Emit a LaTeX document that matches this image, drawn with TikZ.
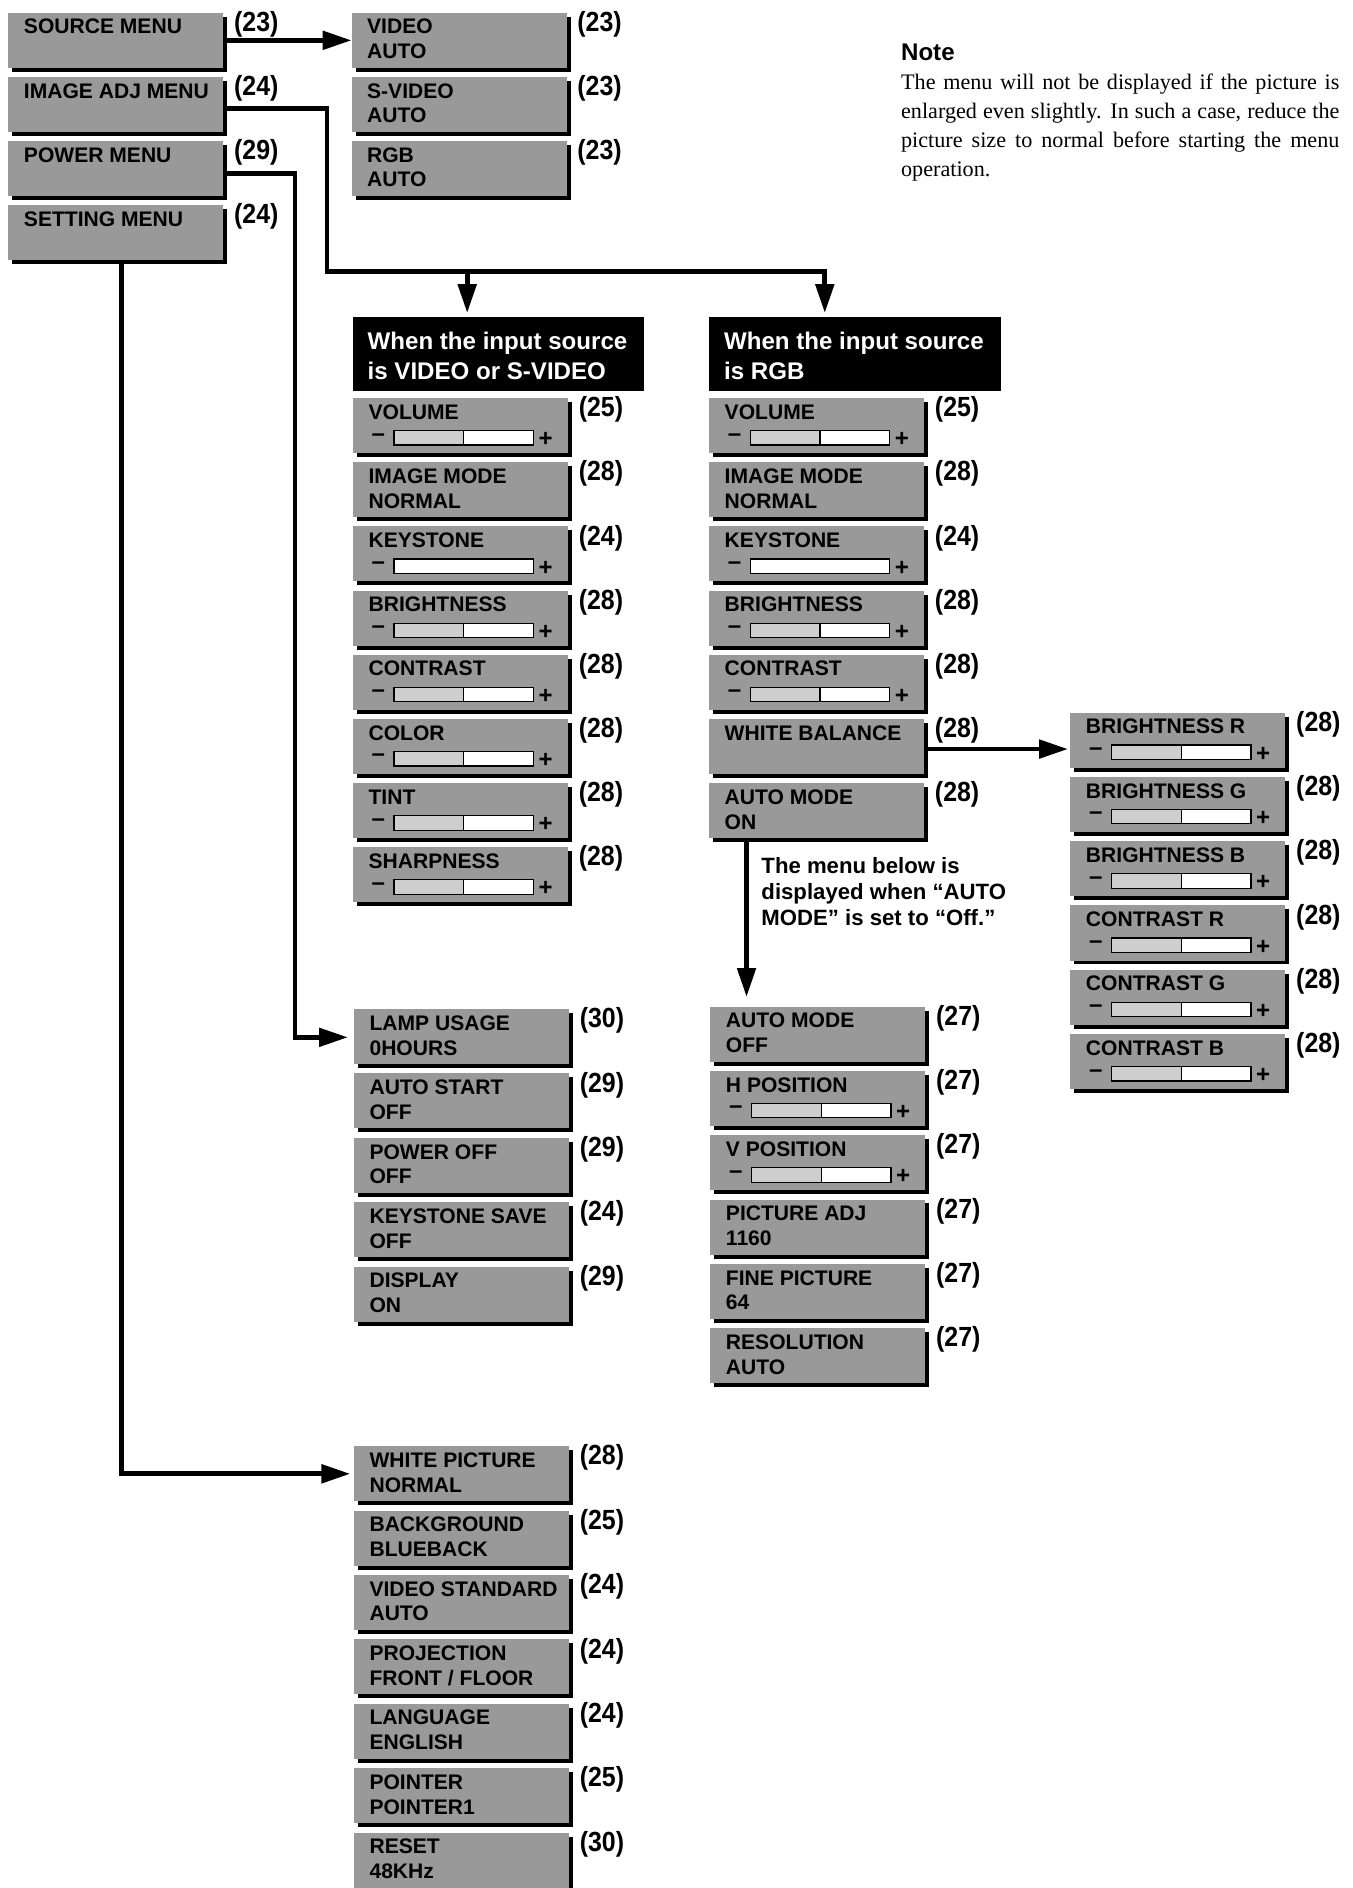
\documentclass[tikz,border=0pt]{standalone}
\usepackage{fontspec}
\setmainfont{Liberation Serif}
\newfontfamily\hv{Liberation Sans}
\newfontfamily\hvc[FakeStretch=0.9]{Liberation Sans}
\usetikzlibrary{calc,arrows.meta}
\definecolor{mgray}{RGB}{153,153,153}
\definecolor{sgray}{RGB}{206,206,206}
\hbadness=10000
\hfuzz=30pt
\tikzset{
  mbox/.style={fill=mgray, inner sep=0pt, outer sep=0pt, minimum width=89.3pt, minimum height=22.85pt, anchor=north west},
  hdrbox/.style={fill=black, inner sep=0pt, outer sep=0pt, minimum width=121pt, minimum height=31pt, anchor=north west},
  mtxt/.style={anchor=base west, inner sep=0pt, font=\hv\bfseries\fontsize{8.75}{10}\selectfont},
  sym/.style={anchor=center, inner sep=0pt, font=\hv\bfseries\fontsize{10}{10}\selectfont},
  htxt/.style={anchor=base west, inner sep=0pt, text=white, font=\hv\bfseries\fontsize{10}{12}\selectfont},
  ntxt/.style={anchor=base west, inner sep=0pt, font=\hv\bfseries\fontsize{9.2}{10}\selectfont},
  btxt/.style={anchor=base west, inner sep=0pt, font=\fontsize{9.2}{12}\selectfont},
  reflbl/.style={anchor=base west, inner sep=0pt, font=\hvc\bfseries\fontsize{11.5}{12}\selectfont},
  bar/.style={line width=0.5pt},
  conn/.style={line width=2pt, line join=miter},
  arr/.style={conn, -{Triangle[length=12pt,width=7.5pt]}},
}
% name, x, y (top), line 1, line 2, page ref
\newcommand\mnubox[6]{%
  \fill[black] (#2+3.3,#3+3.3) rectangle ++(178.6,45.7);
  \node[mbox] (#1) at (#2,#3) {};
  \node[mtxt] (#1-a) at ($(#1.north west)+(12.5,17.6)$) {#4};
  \node[mtxt] (#1-b) at ($(#1.north west)+(12.5,38.2)$) {#5};
  \node[reflbl] (#1-r) at ($(#1.north east)+(8.5,15.5)$) {(#6)};
}
% half-filled slider
\newcommand\slidh[1]{%
  \fill[white] ($(#1.north west)+(34,27)$) rectangle ($(#1.north west)+(150,39)$);
  \fill[sgray] ($(#1.north west)+(34,27)$) rectangle ($(#1.north west)+(92,39)$);
  \draw[bar] ($(#1.north west)+(34,27)$) rectangle ($(#1.north west)+(150,39)$);
  \draw[bar] ($(#1.north west)+(92,27)$) -- ($(#1.north west)+(92,39)$);
  \node[sym] (#1-m) at ($(#1.north west)+(21,32.5)$) {\textendash};
  \node[sym] (#1-p) at ($(#1.north west)+(160,34.5)$) {+};
}
% empty slider
\newcommand\slide[1]{%
  \fill[white] ($(#1.north west)+(34,27)$) rectangle ($(#1.north west)+(150,39)$);
  \draw[bar] ($(#1.north west)+(34,27)$) rectangle ($(#1.north west)+(150,39)$);
  \node[sym] (#1-m) at ($(#1.north west)+(21,32.5)$) {\textendash};
  \node[sym] (#1-p) at ($(#1.north west)+(160,34.5)$) {+};
}
\begin{document}
\begin{tikzpicture}[x=0.5pt,y=-0.5pt]
\useasboundingbox (0,0) rectangle (1123,1568);

% ---------- main menus ----------
\mnubox{m1}{7}{10.5}{SOURCE MENU}{}{23}
\mnubox{m2}{7}{63.8}{IMAGE ADJ MENU}{}{24}
\mnubox{m3}{7}{117.1}{POWER MENU}{}{29}
\mnubox{m4}{7}{170.4}{SETTING MENU}{}{24}

% ---------- source ----------
\mnubox{s1}{292}{10.5}{VIDEO}{AUTO}{23}
\mnubox{s2}{292}{63.8}{S-VIDEO}{AUTO}{23}
\mnubox{s3}{292}{117.1}{RGB}{AUTO}{23}

% ---------- headers ----------
\node[hdrbox] (hA) at (293,263) {};
\node[htxt] (hA-1) at ($(hA.north west)+(12,27.5)$) {When the input source};
\node[htxt] (hA-2) at ($(hA.north west)+(12,52.5)$) {is VIDEO or S-VIDEO};
\node[hdrbox] (hB) at (589,263) {};
\node[htxt] (hB-1) at ($(hB.north west)+(12,27.5)$) {When the input source};
\node[htxt] (hB-2) at ($(hB.north west)+(12,52.5)$) {is RGB};

% ---------- video column ----------
\mnubox{a1}{293.2}{330.6}{VOLUME}{}{25}\slidh{a1}
\mnubox{a2}{293.2}{383.9}{IMAGE MODE}{NORMAL}{28}
\mnubox{a3}{293.2}{437.2}{KEYSTONE}{}{24}\slide{a3}
\mnubox{a4}{293.2}{490.5}{BRIGHTNESS}{}{28}\slidh{a4}
\mnubox{a5}{293.2}{543.8}{CONTRAST}{}{28}\slidh{a5}
\mnubox{a6}{293.2}{597.1}{COLOR}{}{28}\slidh{a6}
\mnubox{a7}{293.2}{650.4}{TINT}{}{28}\slidh{a7}
\mnubox{a8}{293.2}{703.7}{SHARPNESS}{}{28}\slidh{a8}

% ---------- RGB column ----------
\mnubox{b1}{589}{330.6}{VOLUME}{}{25}\slidh{b1}
\mnubox{b2}{589}{383.9}{IMAGE MODE}{NORMAL}{28}
\mnubox{b3}{589}{437.2}{KEYSTONE}{}{24}\slide{b3}
\mnubox{b4}{589}{490.5}{BRIGHTNESS}{}{28}\slidh{b4}
\mnubox{b5}{589}{543.8}{CONTRAST}{}{28}\slidh{b5}
\mnubox{b6}{589}{597.1}{WHITE BALANCE}{}{28}
\mnubox{b7}{589}{650.4}{AUTO MODE}{ON}{28}

% ---------- white balance ----------
\mnubox{c1}{889}{591.8}{BRIGHTNESS R}{}{28}\slidh{c1}
\mnubox{c2}{889}{645.2}{BRIGHTNESS G}{}{28}\slidh{c2}
\mnubox{c3}{889}{698.6}{BRIGHTNESS B}{}{28}\slidh{c3}
\mnubox{c4}{889}{752.0}{CONTRAST R}{}{28}\slidh{c4}
\mnubox{c5}{889}{805.4}{CONTRAST G}{}{28}\slidh{c5}
\mnubox{c6}{889}{858.8}{CONTRAST B}{}{28}\slidh{c6}

% ---------- auto mode off ----------
\mnubox{l1}{590}{836}{AUTO MODE}{OFF}{27}
\mnubox{l2}{590}{889.4}{H POSITION}{}{27}\slidh{l2}
\mnubox{l3}{590}{942.8}{V POSITION}{}{27}\slidh{l3}
\mnubox{l4}{590}{996.2}{PICTURE ADJ}{1160}{27}
\mnubox{l5}{590}{1049.6}{FINE PICTURE}{64}{27}
\mnubox{l6}{590}{1103}{RESOLUTION}{AUTO}{27}

% ---------- power ----------
\mnubox{p1}{294}{838}{LAMP USAGE}{0HOURS}{30}
\mnubox{p2}{294}{891.5}{AUTO START}{OFF}{29}
\mnubox{p3}{294}{945}{POWER OFF}{OFF}{29}
\mnubox{p4}{294}{998.5}{KEYSTONE SAVE}{OFF}{24}
\mnubox{p5}{294}{1052}{DISPLAY}{ON}{29}

% ---------- setting ----------
\mnubox{t1}{294}{1201}{WHITE PICTURE}{NORMAL}{28}
\mnubox{t2}{294}{1254.5}{BACKGROUND}{BLUEBACK}{25}
\mnubox{t3}{294}{1308}{VIDEO STANDARD}{AUTO}{24}
\mnubox{t4}{294}{1361.5}{PROJECTION}{FRONT / FLOOR}{24}
\mnubox{t5}{294}{1415}{LANGUAGE}{ENGLISH}{24}
\mnubox{t6}{294}{1468.5}{POINTER}{POINTER1}{25}
\mnubox{t7}{294}{1522}{RESET}{48KHz}{30}

% ---------- note ----------
\node[anchor=base west, inner sep=0pt, font=\hv\bfseries\fontsize{10}{12}\selectfont] (noteh) at (748,50.5) {Note};
\node[btxt] (note1) at (748,74.5) {\makebox[182pt][s]{The menu will not be displayed if the picture is}};
\node[btxt] (note2) at (748,98.5) {\makebox[182pt][s]{enlarged even slightly. In such a case, reduce the}};
\node[btxt] (note3) at (748,122.5) {\makebox[182pt][s]{picture size to normal before starting the menu}};
\node[btxt] (note4) at (748,146.5) {operation.};

% ---------- auto mode remark ----------
\node[ntxt] (am1) at (632,725.5) {The menu below is};
\node[ntxt] (am2) at (632,747) {displayed when “AUTO};
\node[ntxt] (am3) at (632,768.5) {MODE” is set to “Off.”};

% ---------- connectors ----------
\coordinate (srcs) at ($(m1.north east)+(3.3,23)$);
\draw[arr] (srcs) -- (srcs -| s1.west);

\coordinate (imgs) at ($(m2.north east)+(3.3,26)$);
\coordinate (jI) at (271.5,225.7);
\coordinate (jA) at (388,225.7);
\coordinate (jB) at (685,225.7);
\draw[arr, shorten >=1.5pt] (imgs) -| (jI) -- (jB) -- (jB |- hB.north);
\draw[arr, shorten >=1.5pt] (jA) -- (jA |- hA.north);

\coordinate (pwrs) at ($(m3.north east)+(3.3,27)$);
\coordinate (jP) at (245,500);
\coordinate (pwre) at ($(p1.north west)+(0,23.5)$);
\draw[arr, shorten >=2.5pt] (pwrs) -| (jP) |- (pwre);

\coordinate (sets) at ($(m4.south west)+(94,3.3)$);
\coordinate (sete) at ($(t1.north west)+(0,23)$);
\draw[arr, shorten >=1.5pt] (sets) |- (sete);

\coordinate (wbs) at ($(b6.north east)+(3.3,25)$);
\draw[arr, shorten >=1pt] (wbs) -- (wbs -| c1.west);

\coordinate (ams) at ($(b7.south west)+(31,3.3)$);
\draw[arr, shorten >=4pt] (ams) -- (ams |- l1.north);
\end{tikzpicture}
\end{document}
